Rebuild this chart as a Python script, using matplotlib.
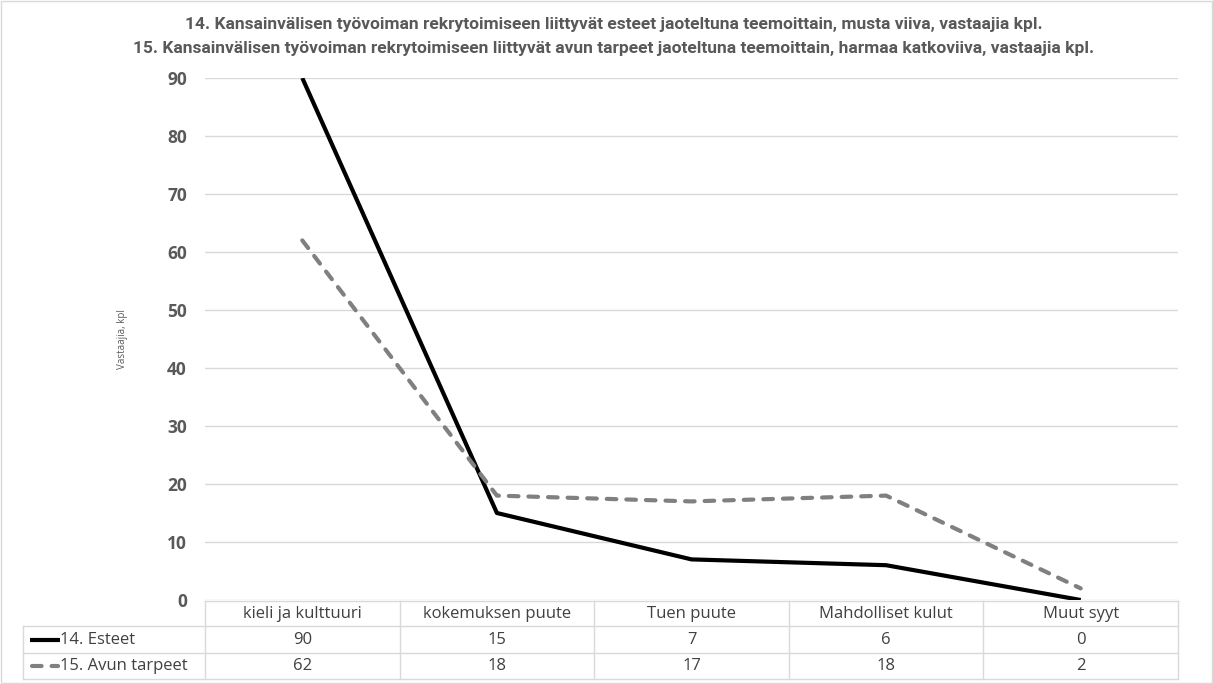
import matplotlib.pyplot as plt
from matplotlib.lines import Line2D
from matplotlib.patches import Rectangle

# data
categories = ['kieli ja kulttuuri', 'kokemuksen puute', 'Tuen puute',
              'Mahdolliset kulut', 'Muut syyt']
esteet = [90, 15, 7, 6, 0]
avun_tarpeet = [62, 18, 17, 18, 2]
series_names = ['14. Esteet', '15. Avun tarpeet']
title_lines = [
    '14. Kansainvälisen työvoiman rekrytoimiseen liittyvät esteet jaoteltuna teemoittain, musta viiva, vastaajia kpl.',
    '15. Kansainvälisen työvoiman rekrytoimiseen liittyvät avun tarpeet jaoteltuna teemoittain, harmaa katkoviiva, vastaajia kpl.',
]
y_ticks = [0, 10, 20, 30, 40, 50, 60, 70, 80, 90]

W, H = 1213, 684
plt.rcParams['font.family'] = ['Open Sans', 'DejaVu Sans']

fig = plt.figure(figsize=(W / 100, H / 100), dpi=100)

# plot area in pixels
left, right, top, bottom = 205, 1178, 78, 600
ax = fig.add_axes([left / W, 1 - bottom / H, (right - left) / W, (bottom - top) / H])

LW = 3.0
DASH = (2.3, 2.4)
x = list(range(len(categories)))
ax.plot(x, esteet, color='black', lw=LW, solid_capstyle='butt', zorder=3)
ax.plot(x, avun_tarpeet, color='#808080', lw=LW, dashes=DASH,
        dash_capstyle='round', zorder=3)

ax.set_xlim(-0.5, len(categories) - 0.5)
ax.set_ylim(0, 90)
ax.set_yticks(y_ticks)
ax.set_yticklabels([str(v) for v in y_ticks], fontweight='bold', color='#595959', fontsize=12.5)
ax.set_xticks([])
ax.tick_params(axis='y', length=0, pad=13)
ax.grid(axis='y', color='#d9d9d9', lw=1)
ax.set_axisbelow(True)
for s in ax.spines.values():
    s.set_visible(False)
ax.set_ylabel('Vastaajia, kpl', fontsize=7, color='#595959', labelpad=28)

# overlay axes in pixel coordinates for the table and titles
ov = fig.add_axes([0, 0, 1, 1], facecolor='none')
ov.set_xlim(0, W)
ov.set_ylim(H, 0)
ov.axis('off')

ov.add_patch(Rectangle((1, 1), W - 2, H - 2, fill=False, ec='#d9d9d9', lw=1))

for k, line in enumerate(title_lines):
    ov.text(614, 25 + 23 * k, line, ha='center', va='center', fontsize=12.5,
            fontweight='bold', color='#595959', family=['Liberation Sans Narrow', 'Roboto', 'DejaVu Sans'])

# data table
grid_c = '#d9d9d9'
col_w = (right - left) / len(categories)
rows_y = [601, 626, 653, 679]
tab_left = 23
for i in range(len(categories) + 1):
    xx = left + i * col_w
    ov.add_line(Line2D([xx, xx], [rows_y[0], rows_y[-1]], color=grid_c, lw=1))
ov.add_line(Line2D([tab_left, tab_left], [rows_y[1], rows_y[-1]], color=grid_c, lw=1))
ov.add_line(Line2D([left, right], [rows_y[0], rows_y[0]], color=grid_c, lw=1))
for yy in rows_y[1:]:
    ov.add_line(Line2D([tab_left, right], [yy, yy], color=grid_c, lw=1))

txt_c = '#404040'
fs_tab = 12
for i, cat in enumerate(categories):
    cx = left + (i + 0.5) * col_w
    ov.text(cx, (rows_y[0] + rows_y[1]) / 2, cat, ha='center', va='center',
            fontsize=fs_tab, color=txt_c)
    ov.text(cx, (rows_y[1] + rows_y[2]) / 2, str(esteet[i]), ha='center', va='center',
            fontsize=fs_tab, color=txt_c)
    ov.text(cx, (rows_y[2] + rows_y[3]) / 2, str(avun_tarpeet[i]), ha='center', va='center',
            fontsize=fs_tab, color=txt_c)

# legend keys inside table
y1 = (rows_y[1] + rows_y[2]) / 2
y2 = (rows_y[2] + rows_y[3]) / 2
ov.add_line(Line2D([30, 60], [y1, y1], color='black', lw=LW, solid_capstyle='butt'))
ov.add_line(Line2D([32, 58], [y2, y2], color='#808080', lw=LW, dashes=DASH,
                   dash_capstyle='round'))
ov.text(60, y1, series_names[0], ha='left', va='center', fontsize=fs_tab, color=txt_c)
ov.text(60, y2, series_names[1], ha='left', va='center', fontsize=fs_tab, color=txt_c)

fig.savefig('out.png', dpi=100)
